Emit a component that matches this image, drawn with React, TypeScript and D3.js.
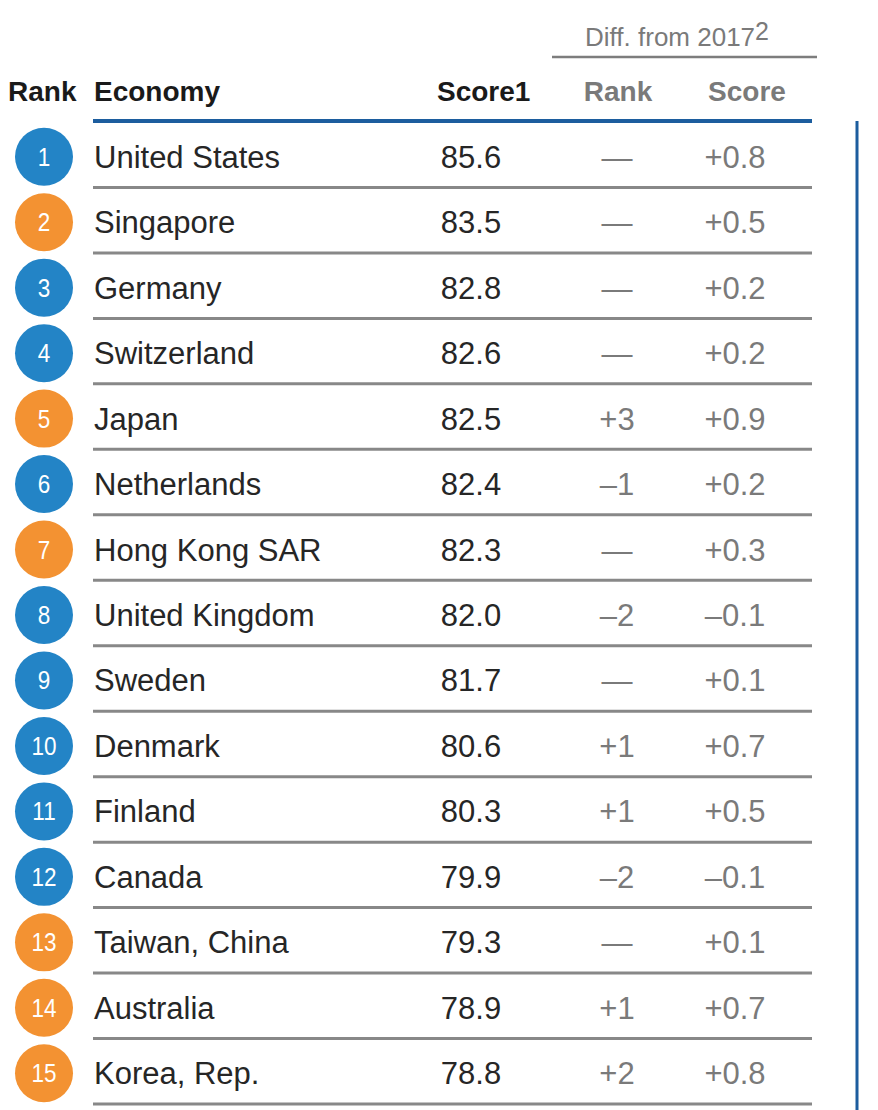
import React from "react";
import * as d3 from "d3";

const ranks = [1, 2, 3, 4, 5, 6, 7, 8, 9, 10, 11, 12, 13, 14, 15];
const economies = [
  "United States", "Singapore", "Germany", "Switzerland", "Japan",
  "Netherlands", "Hong Kong SAR", "United Kingdom", "Sweden", "Denmark",
  "Finland", "Canada", "Taiwan, China", "Australia", "Korea, Rep.",
];
const scores = ["85.6", "83.5", "82.8", "82.6", "82.5", "82.4", "82.3", "82.0", "81.7", "80.6", "80.3", "79.9", "79.3", "78.9", "78.8"];
const rankDiffs = ["—", "—", "—", "—", "+3", "–1", "—", "–2", "—", "+1", "+1", "–2", "—", "+1", "+2"];
const scoreDiffs = ["+0.8", "+0.5", "+0.2", "+0.2", "+0.9", "+0.2", "+0.3", "–0.1", "+0.1", "+0.7", "+0.5", "–0.1", "+0.1", "+0.7", "+0.8"];
const regions = ["other", "eap", "other", "other", "eap", "other", "eap", "other", "other", "other", "other", "other", "eap", "eap", "eap"];

const headers = { rank: "Rank", economy: "Economy", score: "Score1", diffRank: "Rank", diffScore: "Score", diff: "Diff. from 2017", sup: "2" };

const W = 878;
const H = 1110;
const FONT = "'Liberation Sans', Arial, Helvetica, sans-serif";

export default function App() {
  const y = d3.scaleBand<number>().domain(ranks).range([124, 1106]).padding(0);
  const color = d3.scaleOrdinal<string, string>().domain(["other", "eap"]).range(["#2384c6", "#f39232"]);
  const xLineStart = 93;
  const xLineEnd = 812;

  return (
    <svg width={W} height={H} style={{ position: "absolute", left: 0, top: 0, background: "#fff" }} fontFamily={FONT}>
      {/* super header */}
      <text x={677} y={46} textAnchor="middle" fontSize={26} fill="#7a7a7a">
        {headers.diff}
        <tspan dy={-6} fontSize={25}>{headers.sup}</tspan>
      </text>
      <line x1={552} x2={817} y1={57} y2={57} stroke="#7d7d7d" strokeWidth={2.5} />

      {/* column headers */}
      <g fontSize={28} fontWeight="bold">
        <text x={8} y={101} fill="#1a1a1a">{headers.rank}</text>
        <text x={94} y={101} fill="#1a1a1a">{headers.economy}</text>
        <text x={437} y={101} fill="#1a1a1a">{headers.score}</text>
        <text x={618} y={101} textAnchor="middle" fill="#7a7a7a">{headers.diffRank}</text>
        <text x={747} y={101} textAnchor="middle" fill="#7a7a7a">{headers.diffScore}</text>
      </g>

      <line x1={xLineStart} x2={xLineEnd} y1={121} y2={121} stroke="#1c5d9e" strokeWidth={4} />
      <line x1={857} x2={857} y1={121} y2={H} stroke="#1c5d9e" strokeWidth={3} />

      {ranks.map((r, i) => {
        const top = y(r) as number;
        const cy = top + y.bandwidth() / 2 - 1;
        const bottom = top + y.bandwidth() - 2;
        return (
          <g key={r}>
            <circle cx={44} cy={cy + 1} r={29} fill={color(regions[i])} />
            <text x={44} y={cy + 10} textAnchor="middle" fontSize={25} fill="#fff" transform={`translate(44,0) scale(0.9,1) translate(-44,0)`}>{r}</text>
            <text x={94} y={cy + 12} fontSize={31} fill="#262626">{economies[i]}</text>
            <text x={471} y={cy + 12} textAnchor="middle" fontSize={31} fill="#262626">{scores[i]}</text>
            <text x={617} y={cy + 12} textAnchor="middle" fontSize={31} fill="#7a7a7a">{rankDiffs[i]}</text>
            <text x={735} y={cy + 12} textAnchor="middle" fontSize={31} fill="#7a7a7a">{scoreDiffs[i]}</text>
            <line x1={xLineStart} x2={xLineEnd} y1={bottom} y2={bottom} stroke="#888" strokeWidth={3} />
          </g>
        );
      })}
    </svg>
  );
}
